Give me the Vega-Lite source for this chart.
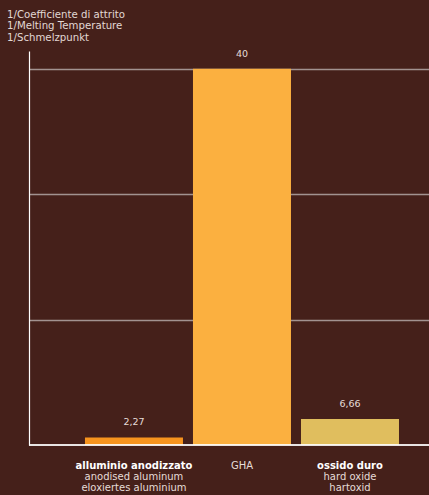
{
  "$schema": "https://vega.github.io/schema/vega-lite/v6.json",
  "width": 400,
  "height": 394,
  "autosize": "none",
  "padding": {"left": 29, "top": 51, "right": 0, "bottom": 50},
  "background": "#45201a",
  "title": {
    "text": ["1/Coefficiente di attrito", "1/Melting Temperature", "1/Schmelzpunkt"],
    "anchor": "start",
    "frame": "group",
    "dx": -22,
    "offset": 6,
    "font": "DejaVu Sans",
    "fontSize": 10.2,
    "fontWeight": "normal",
    "color": "#e2d8d4",
    "lineHeight": 11.5
  },
  "config": {
    "view": {"stroke": null},
    "font": "DejaVu Sans"
  },
  "data": {
    "values": [
      {"cat": "alluminio anodizzato", "height": 0.8, "label": "2,27", "bold": "alluminio anodizzato", "reg1": "", "rest": ["anodised aluminum", "eloxiertes aluminium"], "color": "#f7941e"},
      {"cat": "GHA", "height": 40, "label": "40", "bold": "", "reg1": "GHA", "rest": [""], "color": "#fbb040"},
      {"cat": "ossido duro", "height": 2.77, "label": "6,66", "bold": "ossido duro", "reg1": "", "rest": ["hard oxide", "hartoxid"], "color": "#e0be5e"}
    ]
  },
  "encoding": {
    "x": {
      "field": "cat",
      "type": "nominal",
      "sort": null,
      "scale": {"paddingInner": 0.0926, "paddingOuter": 0.398, "align": 0.651},
      "axis": {"labels": false, "ticks": false, "title": null, "domain": false}
    }
  },
  "layer": [
    {
      "mark": {"type": "bar"},
      "encoding": {
        "y": {
          "field": "height",
          "type": "quantitative",
          "scale": {"domain": [0, 41.9], "nice": false, "zero": true},
          "axis": {
            "title": null,
            "labels": false,
            "ticks": false,
            "domain": true,
            "domainColor": "#ffffff",
            "domainWidth": 1.2,
            "grid": true,
            "gridColor": "#a29290",
            "gridWidth": 1.5,
            "values": [13.333, 26.667, 40]
          }
        },
        "color": {"field": "color", "type": "nominal", "scale": null}
      }
    },
    {
      "mark": {"type": "rule", "color": "#ffffff", "strokeWidth": 1.2},
      "encoding": {"y": {"datum": 0}, "x": null}
    },
    {
      "mark": {"type": "text", "baseline": "bottom", "dy": -10, "fontSize": 9.5, "color": "#e6dcd8"},
      "encoding": {
        "y": {"field": "height", "type": "quantitative"},
        "text": {"field": "label"}
      }
    },
    {
      "mark": {"type": "text", "baseline": "middle", "dy": 20.5, "fontSize": 10, "fontWeight": "bold", "color": "#ffffff"},
      "encoding": {
        "y": {"datum": 0},
        "text": {"field": "bold"}
      }
    },
    {
      "mark": {"type": "text", "baseline": "middle", "dy": 20.5, "fontSize": 10, "color": "#e6dcd8"},
      "encoding": {
        "y": {"datum": 0},
        "text": {"field": "reg1"}
      }
    },
    {
      "mark": {"type": "text", "baseline": "middle", "dy": 31.5, "fontSize": 10, "lineHeight": 11, "color": "#e6dcd8"},
      "encoding": {
        "y": {"datum": 0},
        "text": {"field": "rest"}
      }
    }
  ]
}
